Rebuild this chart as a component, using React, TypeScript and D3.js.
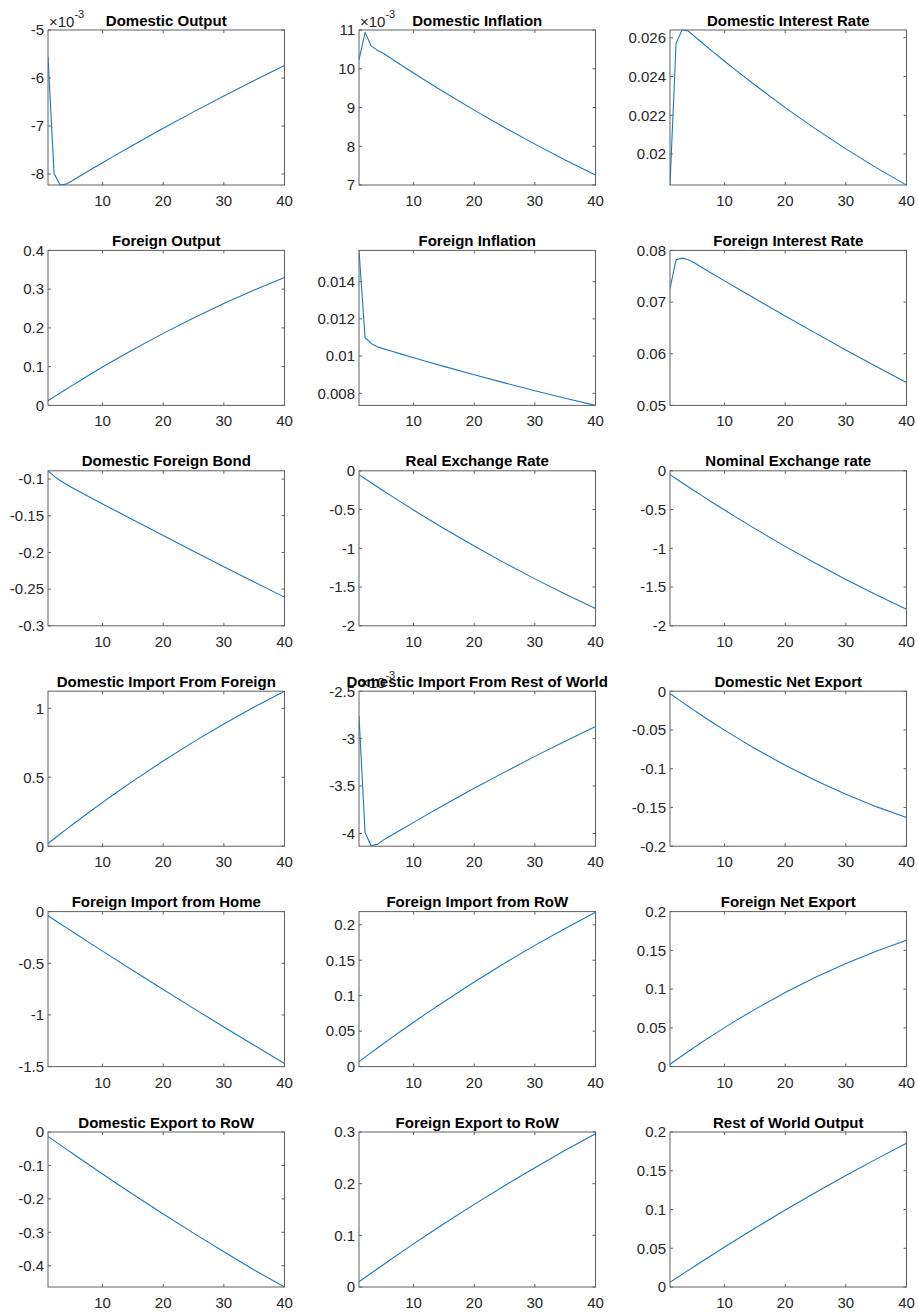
import React from "react";
import * as d3 from "d3";

// Impulse-response horizon points (periods) at which values were read
const periods = [1, 2, 3, 4, 5, 6, 8, 10, 12, 15, 20, 25, 30, 35, 40];

// Row 1 (x10^-3 where noted)
const domesticOutput = [-5.56, -7.99, -8.23, -8.21, -8.14, -8.064, -7.914, -7.765, -7.618, -7.401, -7.048, -6.706, -6.374, -6.053, -5.742];
const domesticInflation = [10.23, 10.94, 10.59, 10.48, 10.4, 10.296, 10.092, 9.89, 9.692, 9.401, 8.932, 8.483, 8.055, 7.647, 7.259];
const domesticInterestRate = [0.0184, 0.0257, 0.02642, 0.02635, 0.026083, 0.025819, 0.025299, 0.024789, 0.024289, 0.02356, 0.022396, 0.021297, 0.020264, 0.019296, 0.018393];
// Row 2
const foreignOutput = [0.012, 0.02205, 0.032, 0.04185, 0.0516, 0.06125, 0.08025, 0.09885, 0.11705, 0.1436, 0.18585, 0.2256, 0.2628, 0.2976, 0.3298];
const foreignInflation = [0.01568, 0.011, 0.01068, 0.0105, 0.0104, 0.010302, 0.010107, 0.009916, 0.009727, 0.009448, 0.008996, 0.00856, 0.008141, 0.007738, 0.007351];
const foreignInterestRate = [0.0726, 0.0782, 0.0785, 0.0782, 0.0776, 0.076896, 0.075496, 0.074105, 0.072724, 0.070671, 0.067298, 0.063986, 0.060734, 0.057543, 0.054413];
// Row 3
const domesticForeignBond = [-0.0887, -0.096, -0.102, -0.1071, -0.1118, -0.1163, -0.1251, -0.1339, -0.1425, -0.1554, -0.1769, -0.1984, -0.2194, -0.2404, -0.2609];
const realExchangeRate = [-0.05, -0.1023, -0.1542, -0.2056, -0.2566, -0.3072, -0.4071, -0.5053, -0.6019, -0.7435, -0.9711, -1.1882, -1.3946, -1.5905, -1.7758];
const nominalExchangeRate = [-0.05, -0.1022, -0.1542, -0.2058, -0.257, -0.3078, -0.4082, -0.5068, -0.6038, -0.7461, -0.975, -1.1934, -1.4012, -1.5985, -1.7852];
// Row 4
const domImportFromForeign = [0.02, 0.05434, 0.08836, 0.12206, 0.15544, 0.18851, 0.25369, 0.31761, 0.38025, 0.47184, 0.6181, 0.7564, 0.88675, 1.00915, 1.1236];
const domImportFromRoW = [-2.76, -3.99, -4.13, -4.115, -4.07, -4.032, -3.957, -3.883, -3.809, -3.7, -3.524, -3.353, -3.187, -3.027, -2.871];
const domesticNetExport = [-0.003, -0.00856, -0.01404, -0.01945, -0.02478, -0.03003, -0.04031, -0.05027, -0.05993, -0.07385, -0.0955, -0.11525, -0.13305, -0.14895, -0.1629];
// Row 5
const foreignImportFromHome = [-0.04, -0.07845, -0.11681, -0.15507, -0.19324, -0.23131, -0.30717, -0.38265, -0.45775, -0.56968, -0.75433, -0.93663, -1.11658, -1.29413, -1.46933];
const foreignImportFromRoW = [0.007, 0.013374, 0.019697, 0.025969, 0.032189, 0.038358, 0.050542, 0.062522, 0.074296, 0.091573, 0.119338, 0.145823, 0.170983, 0.194903, 0.217543];
const foreignNetExport = [0.003, 0.00856, 0.01404, 0.01945, 0.02478, 0.03003, 0.04031, 0.05027, 0.05993, 0.07385, 0.0955, 0.11525, 0.13305, 0.14895, 0.1629];
// Row 6
const domesticExportToRoW = [-0.013, -0.025769, -0.038477, -0.051123, -0.063708, -0.076231, -0.101093, -0.125709, -0.150079, -0.186172, -0.245097, -0.302487, -0.358337, -0.412652, -0.4636];
const foreignExportToRoW = [0.01, 0.018373, 0.026692, 0.034957, 0.043169, 0.051327, 0.067481, 0.083421, 0.099145, 0.122329, 0.159894, 0.196114, 0.230989, 0.264514, 0.296694];
const restOfWorldOutput = [0.006, 0.011185, 0.016339, 0.021462, 0.026554, 0.031616, 0.041646, 0.051554, 0.061338, 0.075783, 0.099243, 0.121933, 0.143853, 0.165003, 0.185383];

const titles = [
  "Domestic Output", "Domestic Inflation", "Domestic Interest Rate",
  "Foreign Output", "Foreign Inflation", "Foreign Interest Rate",
  "Domestic Foreign Bond", "Real Exchange Rate", "Nominal Exchange rate",
  "Domestic Import From Foreign", "Domestic Import From Rest of World", "Domestic Net Export",
  "Foreign Import from Home", "Foreign Import from RoW", "Foreign Net Export",
  "Domestic Export to RoW", "Foreign Export to RoW", "Rest of World Output",
];

const seriesList = [
  domesticOutput, domesticInflation, domesticInterestRate,
  foreignOutput, foreignInflation, foreignInterestRate,
  domesticForeignBond, realExchangeRate, nominalExchangeRate,
  domImportFromForeign, domImportFromRoW, domesticNetExport,
  foreignImportFromHome, foreignImportFromRoW, foreignNetExport,
  domesticExportToRoW, foreignExportToRoW, restOfWorldOutput,
];

const yDomains: [number, number][] = [
  [-8.23, -5], [7, 11], [0.0184, 0.0264],
  [0, 0.4], [0.00735, 0.01568], [0.05, 0.08],
  [-0.3, -0.0887], [-2, 0], [-2, 0],
  [0, 1.124], [-4.134, -2.5], [-0.2, 0],
  [-1.5, 0], [0, 0.2186], [0, 0.2],
  [-0.4636, 0], [0, 0.3], [0, 0.2],
];

const yTicks: number[][] = [
  [-8, -7, -6, -5], [7, 8, 9, 10, 11], [0.02, 0.022, 0.024, 0.026],
  [0, 0.1, 0.2, 0.3, 0.4], [0.008, 0.01, 0.012, 0.014], [0.05, 0.06, 0.07, 0.08],
  [-0.3, -0.25, -0.2, -0.15, -0.1], [-2, -1.5, -1, -0.5, 0], [-2, -1.5, -1, -0.5, 0],
  [0, 0.5, 1], [-4, -3.5, -3, -2.5], [-0.2, -0.15, -0.1, -0.05, 0],
  [-1.5, -1, -0.5, 0], [0, 0.05, 0.1, 0.15, 0.2], [0, 0.05, 0.1, 0.15, 0.2],
  [-0.4, -0.3, -0.2, -0.1, 0], [0, 0.1, 0.2, 0.3], [0, 0.05, 0.1, 0.15, 0.2],
];

const exponentPanels = [0, 1, 10];
const xTicks = [10, 20, 30, 40];
const xDomain: [number, number] = [1, 40];

const colLefts = [48, 359, 670];
const plotW = 236.5;
const plotH = 155;
const rowTop0 = 30;
const rowStep = 220.4;

const FONT = "'Liberation Sans', Arial, Helvetica, sans-serif";
const AXIS_COLOR = "#606060";
const TEXT_COLOR = "#262626";
const LINE_COLOR = "#1a78bd";

const fmt = (v: number) => String(parseFloat(v.toPrecision(6)));

function Panel({ idx }: { idx: number }) {
  const col = idx % 3;
  const row = Math.floor(idx / 3);
  const left = colLefts[col];
  const top = rowTop0 + row * rowStep;
  const x = d3.scaleLinear().domain(xDomain).range([left, left + plotW]);
  const y = d3.scaleLinear().domain(yDomains[idx]).range([top + plotH, top]);
  const values = seriesList[idx];
  const line = d3
    .line<number>()
    .x((_, i) => x(periods[i]))
    .y((d) => y(d));
  const tl = 3;
  const clipId = `clip${idx}`;
  return (
    <g>
      <defs>
        <clipPath id={clipId}>
          <rect x={left} y={top - 0.5} width={plotW} height={plotH + 1} />
        </clipPath>
      </defs>
      <rect x={left} y={top} width={plotW} height={plotH} fill="#fff" />
      <path d={line(values) || ""} fill="none" stroke={LINE_COLOR} strokeWidth={1.1} strokeLinejoin="round" clipPath={`url(#${clipId})`} />
      <rect x={left} y={top} width={plotW} height={plotH} fill="none" stroke={AXIS_COLOR} strokeWidth={1} />
      {xTicks.map((t) => (
        <g key={"x" + t}>
          <line x1={x(t)} x2={x(t)} y1={top + plotH} y2={top + plotH - tl} stroke={AXIS_COLOR} />
          <line x1={x(t)} x2={x(t)} y1={top} y2={top + tl} stroke={AXIS_COLOR} />
          <text x={x(t)} y={top + plotH + 21} textAnchor="middle" fontSize={15} fill={TEXT_COLOR} fontFamily={FONT}>
            {fmt(t)}
          </text>
        </g>
      ))}
      {yTicks[idx].map((t) => (
        <g key={"y" + t}>
          <line x1={left} x2={left + tl} y1={y(t)} y2={y(t)} stroke={AXIS_COLOR} />
          <line x1={left + plotW} x2={left + plotW - tl} y1={y(t)} y2={y(t)} stroke={AXIS_COLOR} />
          <text x={left - 4} y={y(t) + 5.3} textAnchor="end" fontSize={15} fill={TEXT_COLOR} fontFamily={FONT}>
            {fmt(t)}
          </text>
        </g>
      ))}
      {exponentPanels.includes(idx) && (
        <text x={left + 1} y={top - 3.5} fontSize={15} fill={TEXT_COLOR} fontFamily={FONT}>
          ×10
          <tspan dy={-9} fontSize={11}>-3</tspan>
        </text>
      )}
      <text x={left + plotW / 2} y={top - 4.5} textAnchor="middle" fontSize={15} fontWeight="bold" fill="#000" fontFamily={FONT}>
        {titles[idx]}
      </text>
    </g>
  );
}

export default function App() {
  return (
    <svg
      width={918}
      height={1312}
      style={{ position: "absolute", left: 0, top: 0, background: "#fff" }}
      xmlns="http://www.w3.org/2000/svg"
    >
      <rect x={0} y={0} width={918} height={1312} fill="#fff" />
      {titles.map((_, i) => (
        <Panel key={i} idx={i} />
      ))}
    </svg>
  );
}
